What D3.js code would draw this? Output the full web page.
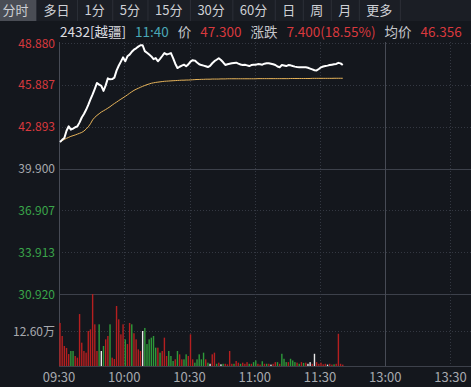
<!DOCTYPE html>
<html>
<head>
<meta charset="utf-8">
<script src="https://cdn.jsdelivr.net/npm/d3@7"></script>
<style>
  html, body { margin: 0; padding: 0; background: #14171d; overflow: hidden; }
  svg { display: block; }
</style>
</head>
<body>
<div id="chart"></div>
<script>
// ---- data ----
var tabs = ["分时", "多日", "1分", "5分", "15分", "30分", "60分", "日", "周", "月", "更多"];
var info = [
  {t: "2432[越疆]", c: "name"}, {t: "11:40", c: "time"}, {t: "价", c: "lab"}, {t: "47.300", c: "up"},
  {t: "涨跌", c: "lab"}, {t: "7.400(18.55%)", c: "up"}, {t: "均价", c: "lab"}, {t: "46.356", c: "up"}
];
var prevClose = 39.900;
var priceTicks = [48.880, 45.887, 42.893, 39.900, 36.907, 33.913, 30.920];
var volTickLabel = "12.60万";
var volTick = 12.6;
var timeLabels = ["09:30", "10:00", "10:30", "11:00", "11:30", "13:00", "13:30"];
var timeMinutes = [0, 30, 60, 90, 120, 150, 180]; // minutes from open (lunch break removed)

// price per minute 09:30 .. 11:40
var price = [
  41.80, 41.95, 42.08, 42.60, 42.92, 42.68, 42.75, 42.85, 42.92, 43.20,
  43.55, 43.80, 44.10, 44.45, 44.85, 45.20, 45.60, 46.02, 45.90, 45.82,
  45.45, 45.85, 46.35, 46.28, 46.30, 46.40, 46.90, 47.25, 47.55, 47.85,
  47.57, 47.93, 48.05, 48.25, 48.40, 48.50, 48.62, 48.72, 48.72, 48.30,
  48.18, 48.05, 47.92, 47.72, 47.80, 47.57, 47.75, 47.95, 48.16, 48.06,
  48.10, 48.16, 47.80, 47.40, 47.09, 47.18, 47.26, 47.33, 47.22, 47.35,
  47.55, 47.65, 47.62, 47.48, 47.36, 47.30, 47.26, 47.22, 47.16, 47.25,
  47.43, 47.58, 47.68, 47.79, 47.66, 47.50, 47.31, 47.36, 47.40, 47.43,
  47.45, 47.47, 47.40, 47.34, 47.31, 47.32, 47.28, 47.23, 47.30, 47.32,
  47.33, 47.37, 47.36, 47.33, 47.40, 47.43, 47.43, 47.40, 47.36, 47.31,
  47.20, 47.15, 47.30, 47.27, 47.23, 47.30, 47.28, 47.23, 47.19, 47.16,
  47.14, 47.14, 47.14, 47.14, 47.11, 47.05, 46.99, 46.93, 46.92, 47.02,
  47.14, 47.20, 47.23, 47.26, 47.30, 47.33, 47.36, 47.38, 47.46, 47.42,
  47.30
];

// average price per minute
var avgPrice = [
  41.80, 41.90, 41.98, 42.06, 42.13, 42.20, 42.25, 42.30, 42.36, 42.42,
  42.48, 42.58, 42.72, 42.88, 43.10, 43.38, 43.56, 43.70, 43.82, 43.94,
  44.03, 44.12, 44.22, 44.32, 44.44, 44.55, 44.65, 44.76, 44.86, 44.96,
  45.06, 45.17, 45.28, 45.39, 45.49, 45.57, 45.64, 45.71, 45.78, 45.84,
  45.90, 45.95, 46.00, 46.03, 46.06, 46.08, 46.10, 46.12, 46.14, 46.15,
  46.16, 46.17, 46.18, 46.19, 46.20, 46.21, 46.22, 46.22, 46.23, 46.23,
  46.24, 46.25, 46.26, 46.27, 46.27, 46.28, 46.28, 46.29, 46.29, 46.29,
  46.30, 46.30, 46.30, 46.30, 46.31, 46.31, 46.31, 46.32, 46.32, 46.32,
  46.32, 46.32, 46.32, 46.32, 46.32, 46.32, 46.32, 46.32, 46.32, 46.32,
  46.32, 46.33, 46.33, 46.33, 46.33, 46.33, 46.33, 46.33, 46.33, 46.33,
  46.33, 46.33, 46.33, 46.33, 46.33, 46.33, 46.34, 46.34, 46.34, 46.34,
  46.34, 46.34, 46.34, 46.34, 46.34, 46.34, 46.35, 46.35, 46.35, 46.35,
  46.35, 46.35, 46.35, 46.35, 46.35, 46.35, 46.356, 46.356, 46.356, 46.356,
  46.356
];

// volume per minute (万股)
var volume = [
  15.5, 10.8, 7.2, 6.5, 4.3, 5.4, 5.4, 3.6, 3.0, 18.7,
  8.4, 5.4, 4.8, 12.6, 13.2, 25.9, 15.0, 5.4, 15.0, 5.4,
  7.2, 9.6, 10.8, 15.0, 3.0, 2.5, 21.6, 16.8, 11.4, 15.0,
  9.6, 7.9, 15.5, 15.0, 11.8, 9.6, 6.0, 5.4, 12.6, 13.7,
  7.9, 9.6, 10.2, 10.8, 6.6, 6.6, 4.8, 5.4, 10.2, 3.6,
  5.4, 3.6, 1.8, 2.4, 5.4, 4.2, 2.4, 2.4, 4.2, 3.6,
  11.4, 2.4, 1.2, 2.4, 4.2, 2.4, 4.8, 2.4, 1.2, 0.8,
  4.2, 4.8, 0.8, 1.2, 0.6, 0.8, 0.8, 0.6, 5.4, 0.8,
  0.8, 1.8, 1.2, 0.8, 1.2, 0.8, 1.4, 0.8, 0.8, 1.4,
  2.0, 0.8, 0.5, 1.7, 0.8, 0.8, 0.8, 0.5, 0.8, 1.4,
  1.4, 0.8, 4.4, 2.6, 1.4, 1.4, 2.6, 2.0, 1.4, 1.2,
  0.8, 1.4, 1.1, 1.2, 0.8, 1.4, 0.8, 4.4, 1.4, 0.8,
  1.2, 0.6, 0.8, 0.5, 0.8, 0.5, 0.6, 0.8, 11.6, 0.8,
  0.5
];
// r = up, g = down, w = flat
var volDir = (
  "rrrrrggrrr" + "rrrrrrrrgw" + "grrgrrrrrr" + "grrgrrrrwg" + "gggggrgrrr" +
  "gggrgrrggr" + "rrgggggrgw" + "rrgrwgrrrr" + "grrgrrrgrg" + "grrgrgrwrr" +
  "grgggrgggr" + "grgrwwrwrr" + "rrrwrrgrrr" + "r"
).split("");

// ---- layout ----
var W = 471, H = 387;
var left = 59;
var pxPerMin = 2.175;
var priceTop = 43, priceBottom = 294;
var volTop = 296, volBottom = 366;

var col = {
  bg: "#14171d", tabBg: "#1b1e25", tabActive: "#4a4d55", tabSep: "#2c2f37", tabText: "#cfd1d6",
  up: "#d8393d", down: "#3aa54a", flat: "#b3b5ba", time: "#4aa7b7",
  grid: "#343842", gridSolid: "#3d414b", axisText: "#a7a9ae",
  barUp: "#b51f20", barDown: "#2e9a3a", barFlat: "#e8e8e8",
  line: "#ffffff", avg: "#e7b45a"
};
var font = "'Noto Sans CJK SC', 'Noto Sans', sans-serif";

var svg = d3.select("#chart").append("svg")
  .attr("width", W).attr("height", H)
  .style("background", col.bg)
  .style("font-family", font);

var x = d3.scaleLinear().domain([0, 330]).range([left, left + 330 * pxPerMin]);
var y = d3.scaleLinear().domain([30.92, 48.88]).range([priceBottom, priceTop]);
var yv = d3.scaleLinear().domain([0, volTick * 2]).range([volBottom, volTop]);

// ---- tab bar ----
svg.append("rect").attr("x", 0).attr("y", 0).attr("width", W).attr("height", 21).attr("fill", col.tabBg);
var tx = -5;
tabs.forEach(function(t, i) {
  var g = svg.append("g");
  var bg = g.append("rect").attr("y", 0).attr("height", 21)
    .attr("fill", i === 0 ? col.tabActive : "none");
  var txt = g.append("text").text(t).attr("y", 15).attr("font-size", 13)
    .attr("fill", col.tabText).attr("text-anchor", "middle");
  var w = txt.node().getComputedTextLength() + 15;
  bg.attr("x", tx).attr("width", w);
  txt.attr("x", tx + w / 2);
  tx += w;
  svg.append("line").attr("x1", tx + 0.5).attr("x2", tx + 0.5).attr("y1", 0).attr("y2", 21)
    .attr("stroke", col.tabSep);
});

// ---- info row ----
var ix = 60;
info.forEach(function(d) {
  var c = d.c === "up" ? col.up : d.c === "time" ? col.time : d.c === "name" ? "#dcdde0" : "#c4c6cb";
  var t = svg.append("text").text(d.t).attr("x", ix).attr("y", 37)
    .attr("font-size", 13.5).attr("fill", c);
  ix += t.node().getComputedTextLength() + 9;
});

// ---- grid ----
var right = W;
priceTicks.forEach(function(p) {
  var solid = (p === prevClose || p === 30.920);
  svg.append("line")
    .attr("x1", left).attr("x2", right)
    .attr("y1", Math.round(y(p)) + 0.5).attr("y2", Math.round(y(p)) + 0.5)
    .attr("stroke", solid ? col.gridSolid : col.grid)
    .attr("stroke-dasharray", solid ? null : "1,2");
});
svg.append("line").attr("x1", left).attr("x2", right)
  .attr("y1", Math.round(yv(volTick)) + 0.5).attr("y2", Math.round(yv(volTick)) + 0.5)
  .attr("stroke", col.grid).attr("stroke-dasharray", "1,2");
svg.append("line").attr("x1", left).attr("x2", right)
  .attr("y1", volBottom + 0.5).attr("y2", volBottom + 0.5)
  .attr("stroke", col.gridSolid);

timeMinutes.forEach(function(m) {
  var xx = Math.round(x(m)) + 0.5;
  var solid = (m === 0 || m === 150);
  svg.append("line").attr("x1", xx).attr("x2", xx)
    .attr("y1", priceTop - 1).attr("y2", volBottom)
    .attr("stroke", solid ? "#474b55" : col.grid)
    .attr("stroke-dasharray", solid ? null : "1,2");
});

// ---- axis labels ----
priceTicks.forEach(function(p) {
  var c = p > prevClose ? col.up : p < prevClose ? col.down : col.axisText;
  svg.append("text").text(p.toFixed(3))
    .attr("x", 55).attr("y", y(p) + 4.5)
    .attr("text-anchor", "end").attr("font-size", 12).attr("fill", c);
});
svg.append("text").text(volTickLabel)
  .attr("x", 55).attr("y", yv(volTick) + 4.5)
  .attr("text-anchor", "end").attr("font-size", 12).attr("fill", col.axisText);

timeLabels.forEach(function(t, i) {
  svg.append("text").text(t)
    .attr("x", x(timeMinutes[i])).attr("y", 382)
    .attr("text-anchor", "middle").attr("font-size", 13).attr("fill", col.axisText);
});

// ---- volume bars ----
svg.append("g").selectAll("rect").data(volume).enter().append("rect")
  .attr("x", function(d, i) { return x(i) + 0.3; })
  .attr("width", 1.4)
  .attr("y", function(d) { return yv(d); })
  .attr("height", function(d) { return volBottom - yv(d); })
  .attr("fill", function(d, i) {
    var k = volDir[i];
    return k === "r" ? col.barUp : k === "g" ? col.barDown : col.barFlat;
  });

// ---- avg + price lines ----
var line = d3.line()
  .x(function(d, i) { return x(i) + 1; })
  .y(function(d) { return y(d); });

svg.append("path").datum(avgPrice)
  .attr("d", line).attr("fill", "none")
  .attr("stroke", col.avg).attr("stroke-width", 1);

svg.append("path").datum(price)
  .attr("d", line).attr("fill", "none")
  .attr("stroke", col.line).attr("stroke-width", 2)
  .attr("stroke-linejoin", "round");
</script>
</body>
</html>
